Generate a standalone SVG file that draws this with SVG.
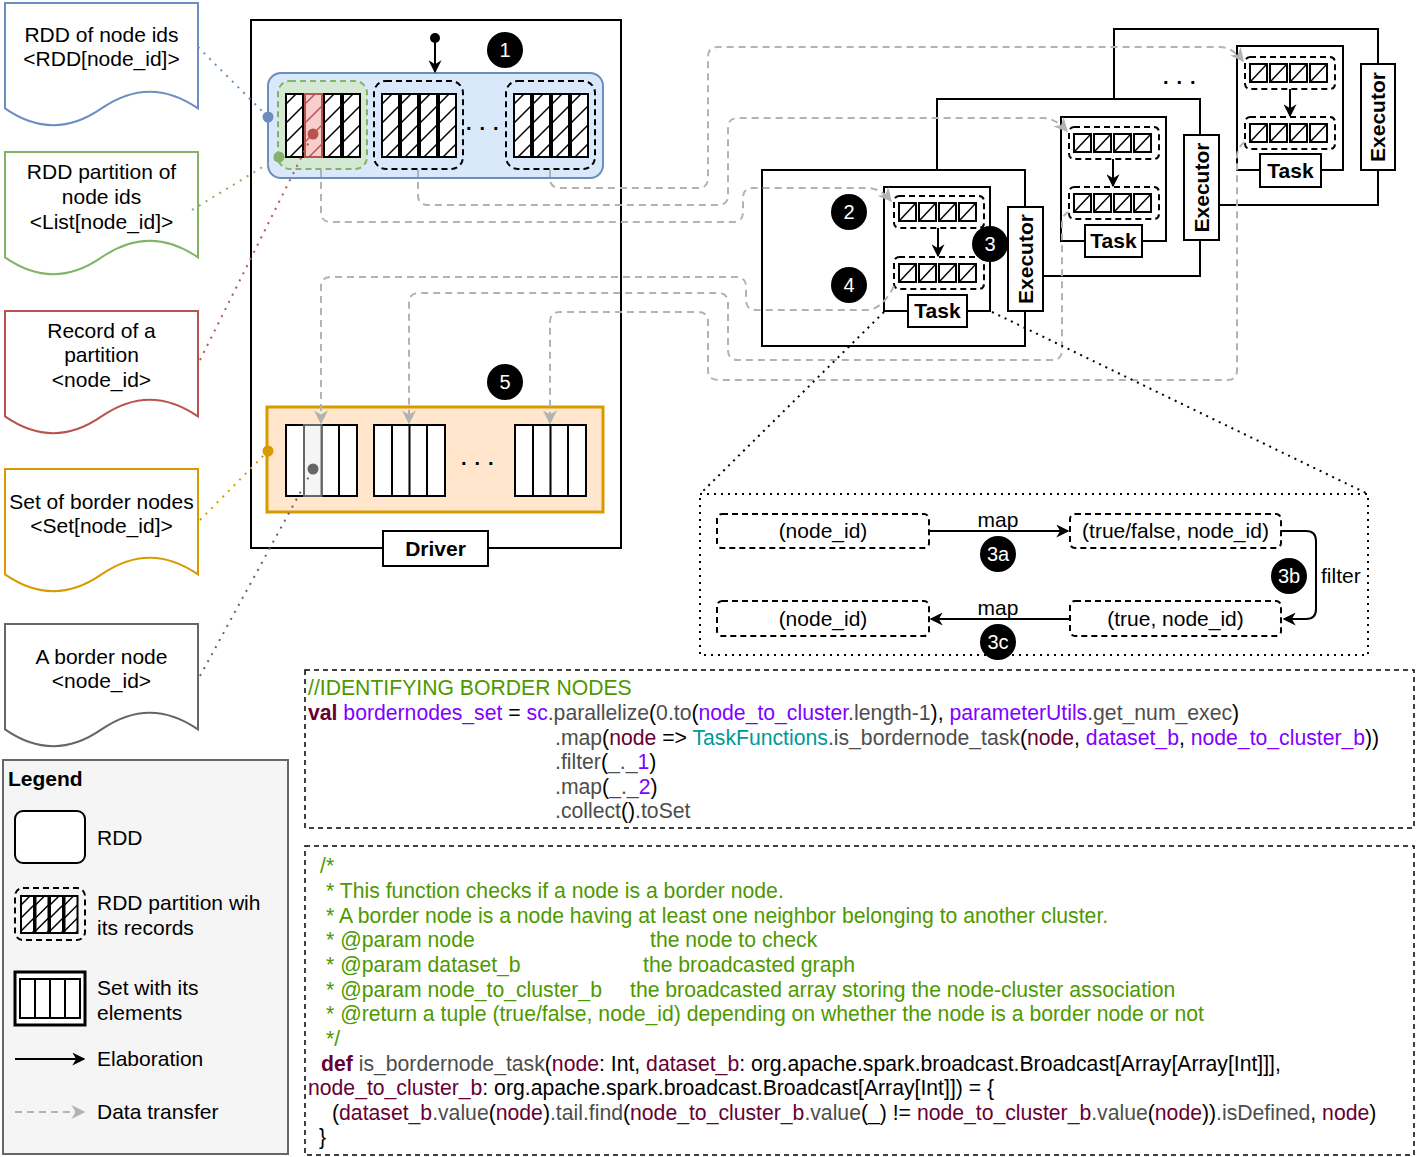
<svg xmlns="http://www.w3.org/2000/svg" width="1419" height="1157" viewBox="0 0 1419 1157">
<style>
text{font-family:"Liberation Sans",Arial,Helvetica,sans-serif;font-size:21px;fill:#000}
.b{font-weight:bold}
.m{text-anchor:middle}
.w{fill:#fff}
.n{font-size:20px}
.c{font-size:21.2px}
.cm{fill:#4D9900}
.k{fill:#660033;font-weight:bold}
.r{fill:#660033}
.p{fill:#7F00FF}
.g{fill:#4D4D4D}
.tl{fill:#009999}
.box{fill:#fff;stroke:#000;stroke-width:2}
.part{fill:none;stroke:#000;stroke-width:2;stroke-dasharray:6 4}
.data{fill:none;stroke:#B3B3B3;stroke-width:2;stroke-dasharray:7 5}
.elab{fill:none;stroke:#000;stroke-width:2}
.dot{fill:none;stroke-width:2;stroke-dasharray:2 6}
.zoom{fill:none;stroke:#000;stroke-width:2;stroke-dasharray:2 5}
.code{fill:none;stroke:#000;stroke-width:1.5;stroke-dasharray:5 4}
.num{fill:#000}
</style>
<defs>
<marker id="ab" viewBox="0 0 10 10" refX="9" refY="5" markerWidth="13" markerHeight="13" markerUnits="userSpaceOnUse" orient="auto"><path d="M0,0 L10,5 L0,10 L3,5 Z" fill="#000"/></marker>
<marker id="ag" viewBox="0 0 10 10" refX="9" refY="5" markerWidth="14" markerHeight="14" markerUnits="userSpaceOnUse" orient="auto"><path d="M0,0 L10,5 L0,10 L3,5 Z" fill="#B3B3B3"/></marker>
<g id="rec"><rect x="0" y="0" width="17" height="63" fill="#fff" stroke="#000" stroke-width="2"/><path d="M0,10 L10,0 M0,29 L17,12 M0,48 L17,31 M4,63 L17,50" stroke="#000" stroke-width="1.5"/></g>
<g id="srec"><rect x="0" y="0" width="17" height="18" fill="#fff" stroke="#000" stroke-width="2"/><path d="M1,17 L16,1" stroke="#000" stroke-width="1.5"/></g>
<g id="spart"><rect x="0" y="0" width="90" height="32" rx="5" class="part"/><use href="#srec" x="5" y="7"/><use href="#srec" x="25" y="7"/><use href="#srec" x="45" y="7"/><use href="#srec" x="65" y="7"/></g>
<g id="set"><rect x="0" y="0" width="71" height="71" fill="#fff" stroke="#000" stroke-width="2"/><path d="M18,0 V71 M35.5,0 V71 M53,0 V71" stroke="#000" stroke-width="2"/></g>
<g id="lrec"><rect x="0" y="0" width="13" height="37" fill="#fff" stroke="#000" stroke-width="2"/><path d="M0,9 L9,0 M0,22 L13,9 M0,35 L13,22 M11,37 L13,35" stroke="#000" stroke-width="1.5"/></g>
</defs>

<!-- Documents -->
<g id="doc-rdd">
<path d="M5,3 H198 V108.4 Q149.75,74.9 101.5,108.4 Q53.25,141.9 5,108.4 Z" fill="#fff" stroke="#6c8ebf" stroke-width="2"/>
<text x="101.5" y="42" class="m">RDD of node ids</text>
<text x="101.5" y="66" class="m">&lt;RDD[node_id]&gt;</text>
</g>
<g id="doc-partition">
<path d="M5,152 H198 V257.4 Q149.75,223.9 101.5,257.4 Q53.25,290.9 5,257.4 Z" fill="#fff" stroke="#82b366" stroke-width="2"/>
<text x="101.5" y="179" class="m">RDD partition of</text>
<text x="101.5" y="204" class="m">node ids</text>
<text x="101.5" y="229" class="m">&lt;List[node_id]&gt;</text>
</g>
<g id="doc-record">
<path d="M5,311 H198 V416.4 Q149.75,382.9 101.5,416.4 Q53.25,449.9 5,416.4 Z" fill="#fff" stroke="#b85450" stroke-width="2"/>
<text x="101.5" y="338" class="m">Record of a</text>
<text x="101.5" y="362" class="m">partition</text>
<text x="101.5" y="387" class="m">&lt;node_id&gt;</text>
</g>
<g id="doc-set">
<path d="M5,469 H198 V574.4 Q149.75,540.9 101.5,574.4 Q53.25,607.9 5,574.4 Z" fill="#fff" stroke="#d79b00" stroke-width="2"/>
<text x="101.5" y="509" class="m">Set of border nodes</text>
<text x="101.5" y="533" class="m">&lt;Set[node_id]&gt;</text>
</g>
<g id="doc-border">
<path d="M5,624 H198 V729.4 Q149.75,695.9 101.5,729.4 Q53.25,762.9 5,729.4 Z" fill="#fff" stroke="#666666" stroke-width="2"/>
<text x="101.5" y="664" class="m">A border node</text>
<text x="101.5" y="688" class="m">&lt;node_id&gt;</text>
</g>

<!-- Driver -->
<g id="driver">
<rect x="251" y="20" width="370" height="528" class="box" fill="none"/>
<g id="rdd">
<rect x="268" y="73" width="335" height="105" rx="13" fill="#dae8fc" stroke="#6c8ebf" stroke-width="2"/>
<rect x="278" y="81" width="89" height="88" rx="12" fill="#d5e8d4" stroke="#82b366" stroke-width="2" stroke-dasharray="6 4"/>
<use href="#rec" x="286" y="94"/>
<g transform="translate(305,94)"><rect x="0" y="0" width="17" height="63" fill="#f8cecc" stroke="#b85450" stroke-width="2"/><path d="M0,10 L10,0 M0,29 L17,12 M0,48 L17,31 M4,63 L17,50" stroke="#b85450" stroke-width="1.5"/></g>
<use href="#rec" x="324" y="94"/>
<use href="#rec" x="343" y="94"/>
<rect x="374" y="81" width="89" height="88" rx="12" class="part"/>
<use href="#rec" x="382" y="94"/><use href="#rec" x="401" y="94"/><use href="#rec" x="420" y="94"/><use href="#rec" x="439" y="94"/>
<rect x="506" y="81" width="89" height="88" rx="12" class="part"/>
<use href="#rec" x="514" y="94"/><use href="#rec" x="533" y="94"/><use href="#rec" x="552" y="94"/><use href="#rec" x="571" y="94"/>
<text x="466" y="130" class="b n" letter-spacing="8">...</text>
</g>
<g id="borderset">
<rect x="267" y="407" width="336" height="105" fill="#ffe6cc" stroke="#d79b00" stroke-width="3"/>
<use href="#set" x="286" y="425"/>
<rect x="304" y="425" width="17.5" height="71" fill="#f5f5f5" stroke="#666" stroke-width="2"/>
<use href="#set" x="374" y="425"/>
<use href="#set" x="515" y="425"/>
<text x="461" y="465" class="b n" letter-spacing="8">...</text>
</g>
<g id="driver-label">
<rect x="383" y="531" width="105" height="35" class="box"/>
<text x="435.5" y="556" class="m b">Driver</text>
</g>
</g>

<!-- Executors -->
<g id="executor3">
<rect x="1114" y="29" width="264" height="176" class="box"/>
<rect x="1237" y="46" width="106" height="124" class="box"/>
<use href="#spart" x="1245" y="57"/>
<use href="#spart" x="1245" y="117"/>
<line x1="1290" y1="89" x2="1290" y2="116" class="elab" marker-end="url(#ab)"/>
<rect x="1260" y="154" width="61" height="33" class="box"/>
<text x="1290.5" y="178" class="m b">Task</text>
<rect x="1361" y="64" width="34" height="106" class="box"/>
<text transform="translate(1385,117) rotate(-90)" class="m b">Executor</text>
<text x="1163" y="84" class="b n" letter-spacing="8">...</text>
</g>
<g id="executor2">
<rect x="937" y="99" width="263" height="177" class="box"/>
<rect x="1061" y="117" width="105" height="124" class="box"/>
<use href="#spart" x="1069" y="127"/>
<use href="#spart" x="1069" y="187"/>
<line x1="1113" y1="159" x2="1113" y2="186" class="elab" marker-end="url(#ab)"/>
<rect x="1085" y="225" width="57" height="32" class="box"/>
<text x="1113.5" y="248" class="m b">Task</text>
<rect x="1184" y="135" width="35" height="105" class="box"/>
<text transform="translate(1208.5,187.5) rotate(-90)" class="m b">Executor</text>
</g>
<g id="executor1">
<rect x="762" y="170" width="263" height="176" class="box"/>
<rect x="884" y="187" width="106" height="124" class="box"/>
<use href="#spart" x="894" y="196"/>
<use href="#spart" x="894" y="257"/>
<line x1="938" y1="228" x2="938" y2="256" class="elab" marker-end="url(#ab)"/>
<rect x="908" y="295" width="59" height="32" class="box"/>
<text x="937.5" y="318" class="m b">Task</text>
<rect x="1008" y="207" width="35" height="104" class="box"/>
<text transform="translate(1032.5,259) rotate(-90)" class="m b">Executor</text>
</g>

<!-- Connectors -->
<g id="connectors">
<line x1="435" y1="38" x2="435" y2="72" class="elab" marker-end="url(#ab)"/>
<circle cx="435" cy="38" r="5" fill="#000"/>
<path d="M321,170 V212 Q321,222 331,222 H733 Q743,222 743,212 V198 Q743,188 753,188 H868 Q880,188 891,201" class="data" marker-end="url(#ag)"/>
<path d="M418,170 V195 Q418,205 428,205 H718 Q728,205 728,195 V128 Q728,118 738,118 H1043 Q1055,118 1067,131" class="data" marker-end="url(#ag)"/>
<path d="M550,170 V178 Q550,188 560,188 H698 Q708,188 708,178 V57 Q708,47 718,47 H1220 Q1232,47 1243,61" class="data" marker-end="url(#ag)"/>
<path d="M894,286 Q882,310 866,310 H756 Q746,310 746,300 V287 Q746,277 736,277 H331 Q321,277 321,287 V423" class="data" marker-end="url(#ag)"/>
<path d="M1069,212 Q1062,214 1062,224 V350 Q1062,360 1052,360 H738 Q728,360 728,350 V303 Q728,293 718,293 H419 Q409,293 409,303 V423" class="data" marker-end="url(#ag)"/>
<path d="M1245,142 Q1237,147 1237,157 V370 Q1237,380 1227,380 H718 Q708,380 708,370 V322 Q708,312 698,312 H560 Q550,312 550,322 V423" class="data" marker-end="url(#ag)"/>
<line x1="198" y1="47" x2="268" y2="117" class="dot" stroke="#6c8ebf"/>
<line x1="192" y1="210" x2="279" y2="157" class="dot" stroke="#82b366"/>
<line x1="200" y1="360" x2="313" y2="134" class="dot" stroke="#b85450"/>
<line x1="200" y1="520" x2="268" y2="451" class="dot" stroke="#d79b00"/>
<line x1="200" y1="676" x2="313" y2="469" class="dot" stroke="#666666"/>
<circle cx="268" cy="117" r="5.5" fill="#6c8ebf"/>
<circle cx="279" cy="157" r="5.5" fill="#82b366"/>
<circle cx="313" cy="134" r="5.5" fill="#b85450"/>
<circle cx="268" cy="451" r="5.5" fill="#d79b00"/>
<circle cx="313" cy="469" r="5.5" fill="#666666"/>
<line x1="884" y1="312" x2="700" y2="494" class="zoom"/>
<line x1="992" y1="312" x2="1368" y2="494" class="zoom"/>
</g>

<!-- Number badges -->
<g id="badges">
<circle cx="505" cy="50" r="18" class="num"/><text x="505" y="57" class="m w n">1</text>
<circle cx="849" cy="212" r="18" class="num"/><text x="849" y="219" class="m w n">2</text>
<circle cx="990" cy="244" r="18" class="num"/><text x="990" y="251" class="m w n">3</text>
<circle cx="849" cy="285" r="18" class="num"/><text x="849" y="292" class="m w n">4</text>
<circle cx="505" cy="382" r="18" class="num"/><text x="505" y="389" class="m w n">5</text>
</g>

<!-- Zoomed detail of step 3 -->
<g id="detail">
<rect x="700" y="494" width="668" height="161" class="zoom"/>
<g id="d-node1"><rect x="717" y="514" width="212" height="34" rx="5" class="part"/><text x="823" y="538" class="m">(node_id)</text></g>
<g id="d-tf"><rect x="1070" y="514" width="211" height="34" rx="5" class="part"/><text x="1175.5" y="538" class="m">(true/false, node_id)</text></g>
<g id="d-node2"><rect x="717" y="601" width="212" height="35" rx="5" class="part"/><text x="823" y="626" class="m">(node_id)</text></g>
<g id="d-true"><rect x="1070" y="601" width="211" height="35" rx="5" class="part"/><text x="1175.5" y="626" class="m">(true, node_id)</text></g>
<line x1="929" y1="531" x2="1068" y2="531" class="elab" marker-end="url(#ab)"/>
<path d="M1281,531 H1306 Q1316,531 1316,541 V609 Q1316,619 1306,619 H1284" class="elab" marker-end="url(#ab)"/>
<line x1="1070" y1="619" x2="931" y2="619" class="elab" marker-end="url(#ab)"/>
<text x="998" y="527" class="m">map</text>
<text x="998" y="615" class="m">map</text>
<text x="1321" y="583">filter</text>
<circle cx="998" cy="554" r="18" class="num"/><text x="998" y="561" class="m w n">3a</text>
<circle cx="1289" cy="576" r="18" class="num"/><text x="1289" y="583" class="m w n">3b</text>
<circle cx="998" cy="642" r="18" class="num"/><text x="998" y="649" class="m w n">3c</text>
</g>

<!-- Code block 1 -->
<g id="code1">
<rect x="305" y="670" width="1109" height="158" class="code"/>
<text x="308" y="695" class="c cm">//IDENTIFYING BORDER NODES</text>
<text x="308" y="720" class="c" xml:space="preserve"><tspan class="k">val</tspan> <tspan class="p">bordernodes_set</tspan> = <tspan class="p">sc</tspan><tspan class="g">.parallelize</tspan>(<tspan class="g">0.to</tspan>(<tspan class="p">node_to_cluster</tspan><tspan class="g">.length-1</tspan>), <tspan class="p">parameterUtils</tspan><tspan class="g">.get_num_exec</tspan>)</text>
<text x="555" y="745" class="c" xml:space="preserve"><tspan class="g">.map</tspan>(<tspan class="r">node</tspan> =&gt; <tspan class="tl">TaskFunctions</tspan><tspan class="g">.is_bordernode_task</tspan>(<tspan class="r">node</tspan>, <tspan class="p">dataset_b</tspan>, <tspan class="p">node_to_cluster_b</tspan>))</text>
<text x="555" y="769" class="c"><tspan class="g">.filter</tspan>(<tspan class="g">_._</tspan><tspan class="p">1</tspan>)</text>
<text x="555" y="794" class="c"><tspan class="g">.map</tspan>(<tspan class="g">_._</tspan><tspan class="p">2</tspan>)</text>
<text x="555" y="818" class="c"><tspan class="g">.collect</tspan>()<tspan class="g">.toSet</tspan></text>
</g>

<!-- Code block 2 -->
<g id="code2">
<rect x="305" y="846" width="1109" height="309" class="code"/>
<text x="320" y="873" class="c cm">/*</text>
<text x="326" y="898" class="c cm">* This function checks if a node is a border node.</text>
<text x="326" y="923" class="c cm">* A border node is a node having at least one neighbor belonging to another cluster.</text>
<text x="326" y="947" class="c cm">* @param node</text>
<text x="650" y="947" class="c cm">the node to check</text>
<text x="326" y="972" class="c cm">* @param dataset_b</text>
<text x="643" y="972" class="c cm">the broadcasted graph</text>
<text x="326" y="997" class="c cm">* @param node_to_cluster_b</text>
<text x="630" y="997" class="c cm">the broadcasted array storing the node-cluster association</text>
<text x="326" y="1021" class="c cm">* @return a tuple (true/false, node_id) depending on whether the node is a border node or not</text>
<text x="326" y="1046" class="c cm">*/</text>
<text x="321" y="1071" class="c" xml:space="preserve"><tspan class="k">def</tspan> <tspan class="g">is_bordernode_task</tspan>(<tspan class="r">node</tspan>: Int, <tspan class="r">dataset_b</tspan>: org.apache.spark.broadcast.Broadcast[Array[Array[Int]]],</text>
<text x="308" y="1095" class="c" xml:space="preserve"><tspan class="r">node_to_cluster_b</tspan>: org.apache.spark.broadcast.Broadcast[Array[Int]]) = {</text>
<text x="332" y="1120" class="c" xml:space="preserve">(<tspan class="r">dataset_b</tspan><tspan class="g">.value</tspan>(<tspan class="r">node</tspan>)<tspan class="g">.tail.find</tspan>(<tspan class="r">node_to_cluster_b</tspan><tspan class="g">.value</tspan>(_) != <tspan class="r">node_to_cluster_b</tspan><tspan class="g">.value</tspan>(<tspan class="r">node</tspan>))<tspan class="g">.isDefined</tspan>, <tspan class="r">node</tspan>)</text>
<text x="319" y="1144" class="c">}</text>
</g>

<!-- Legend -->
<g id="legend">
<rect x="3" y="760" width="285" height="394" fill="#f5f5f5" stroke="#666" stroke-width="2"/>
<text x="8" y="786" class="b">Legend</text>
<rect x="15" y="811" width="70" height="52" rx="8" class="box"/>
<text x="97" y="845">RDD</text>
<rect x="15" y="888" width="70" height="52" rx="8" class="part"/>
<use href="#lrec" x="21" y="896"/><use href="#lrec" x="35.5" y="896"/><use href="#lrec" x="50" y="896"/><use href="#lrec" x="64.5" y="896"/>
<text x="97" y="910">RDD partition wih</text>
<text x="97" y="935">its records</text>
<rect x="15" y="972" width="70" height="53" fill="#fff" stroke="#000" stroke-width="3"/>
<rect x="20" y="979" width="60" height="39" fill="#fff" stroke="#000" stroke-width="2"/>
<path d="M35,979 V1018 M50,979 V1018 M65,979 V1018" stroke="#000" stroke-width="2"/>
<text x="97" y="995">Set with its</text>
<text x="97" y="1020">elements</text>
<line x1="15" y1="1059" x2="84" y2="1059" class="elab" marker-end="url(#ab)"/>
<text x="97" y="1066">Elaboration</text>
<line x1="15" y1="1112" x2="84" y2="1112" class="data" stroke-width="1.5" marker-end="url(#ag)"/>
<text x="97" y="1119">Data transfer</text>
</g>
</svg>
